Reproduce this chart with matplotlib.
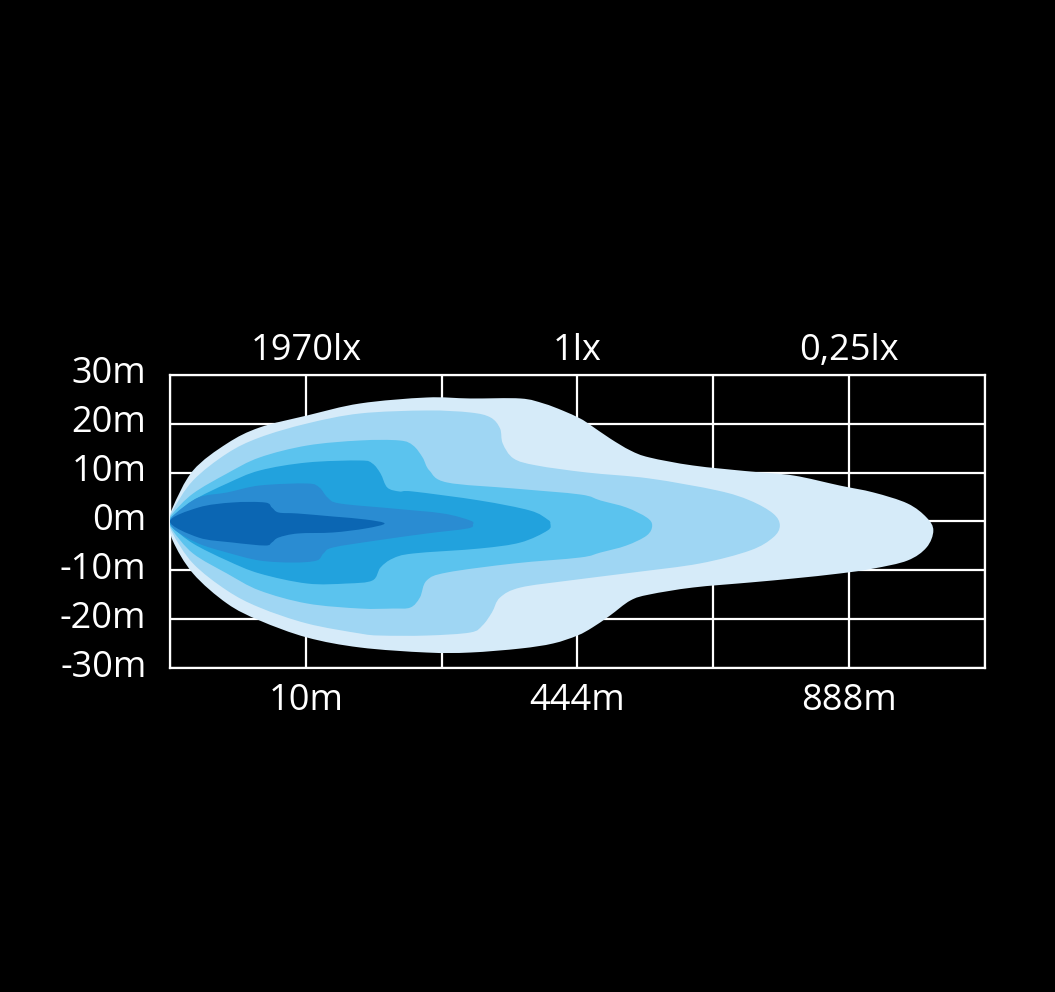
import matplotlib
matplotlib.use("Agg")
import matplotlib.pyplot as plt
import matplotlib.transforms as mtransforms
import numpy as np
from matplotlib.path import Path
from matplotlib.patches import PathPatch

# x in grid columns (0..6), y in metres
y_ticks = [30, 20, 10, 0, -10, -20, -30]
y_labels = ["30m", "20m", "10m", "0m", "-10m", "-20m", "-30m"]
bottom_ticks = [1, 3, 5]
bottom_labels = ["10m", "444m", "888m"]
top_labels = ["1970lx", "1lx", "0,25lx"]

# beam outlines, outermost (weakest) first
layer1_x = [0, 0.02, 0.17, 0.42, 0.66, 1.01, 1.40, 1.89, 2.21, 2.58, 2.75, 2.89, 3.02, 3.09, 3.24,
            3.39, 3.53, 3.85, 4.27, 4.59, 4.93, 5.18, 5.43, 5.57, 5.62, 5.57, 5.43, 5.18, 4.93,
            4.59, 4.27, 3.85, 3.53, 3.39, 3.24, 3.11, 3.00, 2.82, 2.58, 2.21, 1.89, 1.40, 1.01,
            0.66, 0.42, 0.17, 0.02]
layer1_y = [0, 2.87, 10.44, 15.97, 19.25, 21.71, 24.17, 25.39, 25.19, 25.19, 24.17, 22.73, 21.09,
            19.86, 17.0, 14.54, 13.11, 11.47, 10.24, 9.42, 7.37, 5.94, 3.69, 0.82, -1.84, -5.32,
            -7.99, -9.63, -10.65, -11.67, -12.49, -13.52, -14.95, -16.17, -19.25, -21.71, -23.35,
            -24.98, -26.01, -26.83, -26.83, -25.80, -23.76, -20.27, -16.79, -10.65, -3.89]

layer2_x = [0, 0.02, 0.17, 0.42, 0.66, 1.01, 1.40, 1.89, 2.21, 2.36, 2.43, 2.45, 2.53, 2.70, 3.07,
            3.53, 4.03, 4.27, 4.44, 4.49, 4.44, 4.27, 3.90, 3.41, 2.94, 2.58, 2.43, 2.37, 2.30,
            2.21, 1.89, 1.55, 1.40, 1.01, 0.66, 0.42, 0.17, 0.02]
layer2_y = [0, 2.25, 8.40, 13.93, 17.20, 20.07, 22.12, 22.73, 22.32, 21.30, 19.05, 15.97, 12.90,
            11.47, 10.03, 8.81, 6.35, 4.30, 1.64, -0.82, -3.28, -5.94, -8.60, -10.44, -12.08,
            -13.52, -15.56, -18.64, -21.30, -22.73, -23.35, -23.35, -22.94, -20.89, -17.61,
            -14.13, -8.60, -2.46]

layer3_x = [0, 0.02, 0.17, 0.42, 0.66, 1.01, 1.40, 1.69, 1.79, 1.86, 1.91, 2.04, 2.53, 3.02, 3.17,
            3.36, 3.51, 3.55, 3.51, 3.36, 3.17, 3.02, 2.53, 2.04, 1.89, 1.84, 1.77, 1.64, 1.40,
            1.01, 0.66, 0.42, 0.17, 0.02]
layer3_y = [0, 1.64, 5.73, 9.83, 13.11, 15.56, 16.59, 16.59, 15.56, 13.11, 10.44, 7.99, 6.76, 5.53,
            4.30, 2.87, 0.82, -0.82, -2.87, -4.92, -6.35, -7.37, -8.60, -10.44, -12.08, -15.56,
            -17.61, -17.82, -17.82, -16.79, -14.13, -10.65, -6.55, -1.84]

layer4_x = [0, 0.02, 0.17, 0.42, 0.66, 1.01, 1.40, 1.49, 1.55, 1.60, 1.69, 1.79, 2.28, 2.65, 2.78,
            2.80, 2.78, 2.58, 2.28, 1.79, 1.64, 1.55, 1.49, 1.30, 1.01, 0.66, 0.42, 0.17, 0.02]
layer4_y = [0, 0.82, 4.30, 7.78, 10.44, 12.08, 12.49, 11.88, 9.83, 6.96, 6.14, 6.14, 4.30, 2.25,
            0.41, -0.41, -1.84, -4.30, -5.53, -6.55, -7.58, -9.42, -12.08, -12.70, -12.70,
            -10.65, -7.99, -4.51, -1.23]

layer5_x = [0, 0.04, 0.21, 0.42, 0.66, 1.01, 1.10, 1.16, 1.25, 1.64, 2.01, 2.21, 2.23, 2.19, 1.89,
            1.52, 1.20, 1.13, 1.08, 0.91, 0.66, 0.42, 0.21, 0.04]
layer5_y = [0, 1.64, 4.92, 5.94, 7.37, 7.78, 6.96, 4.92, 3.69, 2.66, 1.64, 0.20, -0.61, -1.43,
            -2.46, -3.89, -5.32, -6.55, -7.99, -8.40, -7.99, -6.35, -4.51, -1.84]

layer6_x = [0, 0.21, 0.46, 0.70, 0.75, 0.80, 0.94, 1.20, 1.44, 1.58, 1.44, 1.20, 0.94, 0.80, 0.75,
            0.70, 0.46, 0.21]
layer6_y = [0, 2.87, 3.89, 3.89, 2.87, 1.84, 1.64, 1.02, 0.41, -0.41, -1.43, -2.25, -2.46, -3.28,
            -4.30, -4.92, -4.30, -3.28]

layer_colors = ["#d6ebf9", "#9fd6f3", "#5bc3ee", "#22a2dd", "#2a8cd2", "#0b66b3"]


def smooth_outline(xs, ys):
    # closed Catmull-Rom through the read points, drawn as cubic bezier segments
    pts = np.column_stack([xs, ys]).astype(float)
    n = len(pts)
    verts = [pts[0]]
    codes = [Path.MOVETO]
    for i in range(n):
        p0, p1, p2, p3 = pts[i - 1], pts[i], pts[(i + 1) % n], pts[(i + 2) % n]
        verts += [p1 + (p2 - p0) / 6.0, p2 - (p3 - p1) / 6.0, p2]
        codes += [Path.CURVE4] * 3
    verts.append(pts[0])
    codes.append(Path.CLOSEPOLY)
    return Path(verts, codes)


plt.rcParams["font.family"] = ["Open Sans", "DejaVu Sans"]

fig = plt.figure(figsize=(10.55, 9.92), dpi=100, facecolor="black")
ax = fig.add_axes([0.1611, 0.3266, 0.7725, 0.2954])
ax.set_facecolor("black")
ax.set_xlim(0, 6)
ax.set_ylim(-30, 30)

ax.set_xticks(range(7))
ax.set_xticklabels(["", bottom_labels[0], "", bottom_labels[1], "", bottom_labels[2], ""])
ax.set_yticks(y_ticks)
ax.set_yticklabels(y_labels)
ax.tick_params(axis="both", length=0, colors="white", labelsize=26)
ax.tick_params(axis="x", pad=11)
ax.tick_params(axis="y", pad=17)
ax.grid(True, color="white", linewidth=1.6, zorder=0)
ax.set_axisbelow(True)
for sp in ax.spines.values():
    sp.set_color("white")
    sp.set_linewidth(1.6)
    sp.set_zorder(0.5)

# y labels sit a little above their grid lines
lift = mtransforms.ScaledTranslation(0, 5 / 100, fig.dpi_scale_trans)
for lbl in ax.get_yticklabels():
    lbl.set_transform(lbl.get_transform() + lift)

top = ax.secondary_xaxis("top")
top.set_xticks(bottom_ticks)
top.set_xticklabels(top_labels)
top.tick_params(length=0, colors="white", labelsize=26, pad=4)
top.spines["top"].set_visible(False)

layers = [(layer1_x, layer1_y), (layer2_x, layer2_y), (layer3_x, layer3_y),
          (layer4_x, layer4_y), (layer5_x, layer5_y), (layer6_x, layer6_y)]
for (lx, ly), col in zip(layers, layer_colors):
    ax.add_patch(PathPatch(smooth_outline(lx, ly), facecolor=col, edgecolor="none", zorder=2))

fig.savefig("out.png", dpi=100, facecolor="black")
